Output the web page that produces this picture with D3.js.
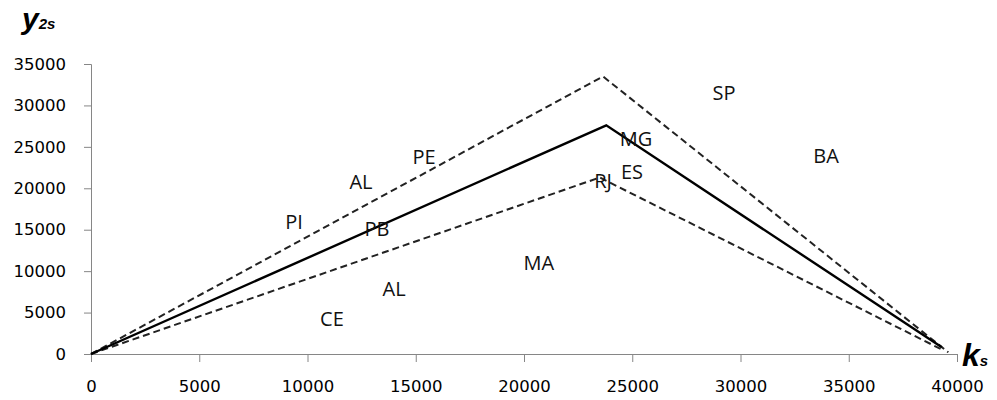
<!doctype html>
<html lang="en">
<head>
  <meta charset="UTF-8">
  <script src="https://cdn.jsdelivr.net/npm/d3@7"></script>
  <title>y2s vs ks</title>
  <style>
    body{ margin:0; background:#fff; }
    .chart svg{ background:#fff; display:block; }
    .axis path, .axis line{ stroke:#868686; }
    .axis text{ font-family:"DejaVu Sans", sans-serif; font-size:16.5px; fill:#000; }
    .lbl{ font-family:"Open Sans", sans-serif; font-size:20px; fill:#111; }
    .ttl{ font-family:"Liberation Sans", sans-serif; font-weight:bold; font-style:italic; fill:#000; }
  </style>
</head>
<body>
  <div class="chart"></div>
  <script>
    // data
    const xTicks = [0, 5000, 10000, 15000, 20000, 25000, 30000, 35000, 40000];
    const yTicks = [0, 5000, 10000, 15000, 20000, 25000, 30000, 35000];

    const midK = [0, 23800, 39300];
    const midY = [0, 27600, 800];
    const upperK = [0, 23650, 39600];
    const upperY = [0, 33500, 200];
    const lowerK = [0, 23500, 39400];
    const lowerY = [0, 21300, 400];

    const states = ['SP', 'BA', 'MG', 'ES', 'RJ', 'PE', 'AL', 'PI', 'PB', 'MA', 'AL', 'CE'];
    const stateK = [29240, 33950, 25170, 24990, 23650, 15380, 12470, 9380, 13210, 20690, 14000, 11130];
    const stateY = [31500, 23900, 25950, 21970, 20880, 23780, 20760, 15930, 15090, 10980, 7850, 4220];

    const bxSize = {w:997, h:400};
    const margin = {top:64, right:40, bottom:46, left:91};
    const [width, height] = [bxSize.w - margin.left - margin.right, bxSize.h - margin.top - margin.bottom];

    const root = d3.select('.chart').append('svg')
      .attr('width', bxSize.w).attr('height', bxSize.h);
    const svg = root.append('g').attr('transform', `translate(${margin.left} ${margin.top})`);

    const xScale = d3.scaleLinear().domain([0, 40000]).range([0, width]);
    const yScale = d3.scaleLinear().domain([0, 35000]).range([height, 0]);

    svg.append('g').attr('class', 'axis')
      .attr('transform', `translate(0, ${height})`)
      .call(d3.axisBottom(xScale).tickValues(xTicks).tickFormat(d3.format('d')).tickSizeOuter(0).tickSize(8).tickPadding(18));
    svg.append('g').attr('class', 'axis')
      .call(d3.axisLeft(yScale).tickValues(yTicks).tickFormat(d3.format('d')).tickSizeOuter(0).tickSize(7).tickPadding(18));

    const line = d3.line().x(d => xScale(d[0])).y(d => yScale(d[1]));
    const zip = (a, b) => a.map((v, i) => [v, b[i]]);

    svg.append('path').datum(zip(upperK, upperY)).attr('d', line)
      .attr('fill', 'none').attr('stroke', '#222').attr('stroke-width', 2).attr('stroke-dasharray', '7,4');
    svg.append('path').datum(zip(lowerK, lowerY)).attr('d', line)
      .attr('fill', 'none').attr('stroke', '#222').attr('stroke-width', 2).attr('stroke-dasharray', '7,4');
    svg.append('path').datum(zip(midK, midY)).attr('d', line)
      .attr('fill', 'none').attr('stroke', '#000').attr('stroke-width', 2.4);

    svg.selectAll('text.lbl').data(states).enter().append('text')
      .attr('class', 'lbl')
      .attr('x', (d, i) => xScale(stateK[i]))
      .attr('y', (d, i) => yScale(stateY[i]))
      .attr('dy', '0.36em')
      .attr('text-anchor', 'middle')
      .text(d => d);

    // axis titles
    const yt = root.append('text').attr('class', 'ttl').attr('x', 22).attr('y', 29);
    yt.append('tspan').attr('font-size', 30).text('y');
    yt.append('tspan').attr('font-size', 15).text('2s');
    const xt = root.append('text').attr('class', 'ttl').attr('x', 962).attr('y', 366);
    xt.append('tspan').attr('font-size', 32).text('k');
    xt.append('tspan').attr('font-size', 15).text('s');
  </script>
</body>
</html>
